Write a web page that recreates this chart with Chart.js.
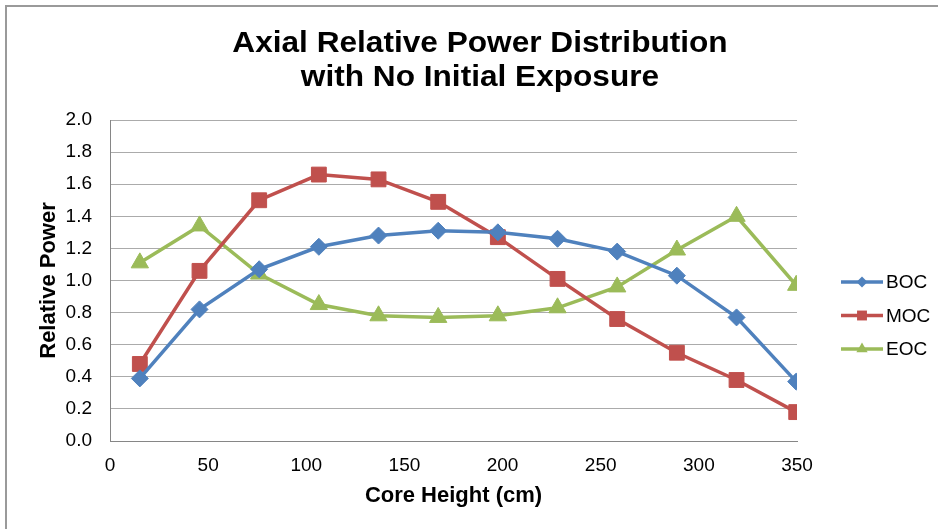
<!DOCTYPE html>
<html>
<head>
<meta charset="utf-8">
<script src="https://cdn.jsdelivr.net/npm/chart.js@4/dist/chart.umd.min.js"></script>
<style>
html,body{margin:0;padding:0;background:#fff;overflow:hidden;width:938px;height:529px;}
#frame{position:absolute;left:5px;top:5px;width:2000px;height:2000px;border:2px solid #9a9a9a;box-sizing:border-box;}
#c{position:absolute;left:0;top:0;}
</style>
</head>
<body>
<div id="frame"></div>
<canvas id="c" width="938" height="529"></canvas>
<script>
const coreHeight = [15.2, 45.6, 76, 106.4, 136.8, 167.2, 197.6, 228, 258.4, 288.8, 319.2, 349.6];
const boc = [0.39, 0.82, 1.07, 1.21, 1.28, 1.31, 1.30, 1.26, 1.18, 1.03, 0.77, 0.37];
const moc = [0.48, 1.06, 1.50, 1.66, 1.63, 1.49, 1.27, 1.01, 0.76, 0.55, 0.38, 0.18];
const eoc = [1.11, 1.34, 1.04, 0.85, 0.78, 0.77, 0.78, 0.83, 0.96, 1.19, 1.40, 0.97];
const seriesNames = ['BOC', 'MOC', 'EOC'];
const titleLines = ['Axial Relative Power Distribution', 'with No Initial Exposure'];
const xTitle = 'Core Height (cm)';
const yTitle = 'Relative Power';

const FONT = 'Arial, "Liberation Sans", sans-serif';
const toPts = ys => ys.map((y, i) => ({x: coreHeight[i], y: y}));

const styles = [
  {color: '#4F81BD', pointStyle: 'rectRot', pointRadius: 8.5, legendRadius: 5.5},
  {color: '#C0504D', pointStyle: 'rect', pointRadius: 10.5, legendRadius: 7},
  {color: '#9BBB59', pointStyle: 'triangle', pointRadius: 10, legendRadius: 6.5}
];
const values = [boc, moc, eoc];

const datasets = values.map((v, i) => ({
  label: seriesNames[i],
  data: toPts(v),
  borderColor: styles[i].color,
  backgroundColor: styles[i].color,
  pointBackgroundColor: styles[i].color,
  pointBorderColor: styles[i].color,
  pointBorderWidth: 1,
  pointStyle: styles[i].pointStyle,
  pointRadius: styles[i].pointRadius,
  pointHoverRadius: styles[i].pointRadius,
  borderWidth: 3.5,
  tension: 0,
  fill: false
}));

const titlePlugin = {
  id: 'customTitle',
  afterDraw(chart) {
    const ctx = chart.ctx;
    const cx = 480;
    const baselines = [52, 86];
    ctx.save();
    ctx.fillStyle = '#000';
    ctx.font = 'bold 29px ' + FONT;
    ctx.textAlign = 'center';
    ctx.textBaseline = 'alphabetic';
    titleLines.forEach((t, i) => {
      ctx.save();
      ctx.translate(cx, baselines[i]);
      ctx.scale(1.09, 1);
      ctx.fillText(t, 0, 0);
      ctx.restore();
    });
    ctx.restore();
  }
};

const legendPlugin = {
  id: 'customLegend',
  afterDraw(chart) {
    const ctx = chart.ctx;
    const x0 = 841, x1 = 883, tx = 886;
    const ys = [282, 315.5, 349];
    chart.data.datasets.forEach((ds, i) => {
      const y = ys[i];
      ctx.save();
      ctx.strokeStyle = ds.borderColor;
      ctx.lineWidth = 3.5;
      ctx.beginPath();
      ctx.moveTo(x0, y);
      ctx.lineTo(x1, y);
      ctx.stroke();
      ctx.fillStyle = ds.borderColor;
      ctx.strokeStyle = ds.borderColor;
      Chart.helpers.drawPoint(ctx, {pointStyle: ds.pointStyle, rotation: 0, radius: styles[i].legendRadius, borderWidth: 0}, (x0 + x1) / 2, y);
      ctx.fillStyle = '#000';
      ctx.font = '19px ' + FONT;
      ctx.textBaseline = 'middle';
      ctx.textAlign = 'left';
      ctx.fillText(ds.label, tx, y + 1);
      ctx.restore();
    });
  }
};

new Chart(document.getElementById('c'), {
  type: 'line',
  data: {datasets},
  plugins: [titlePlugin, legendPlugin],
  options: {
    responsive: false,
    animation: false,
    layout: {padding: {left: 0, right: 141, top: 120, bottom: 0}},
    plugins: {
      legend: {display: false},
      tooltip: {enabled: false},
      title: {display: false}
    },
    scales: {
      x: {
        type: 'linear',
        min: 0, max: 350,
        afterFit(s) { s.height = 88; },
        ticks: {stepSize: 50, color: '#000', font: {family: FONT, size: 19}, padding: 13, maxRotation: 0},
        grid: {display: false, drawTicks: false},
        border: {display: true, color: '#868686', width: 1},
        title: {display: true, text: xTitle, color: '#000', font: {family: FONT, size: 22, weight: 'bold'}, padding: {top: 4, bottom: 20}}
      },
      y: {
        min: 0, max: 2,
        afterFit(s) { s.width = 110; },
        ticks: {stepSize: 0.2, color: '#000', font: {family: FONT, size: 19}, padding: 18, callback: v => v.toFixed(1)},
        grid: {color: '#ABABAB', lineWidth: 1, drawTicks: false},
        border: {display: true, color: '#868686', width: 1},
        title: {display: true, text: yTitle, color: '#000', font: {family: FONT, size: 22, weight: 'bold'}, padding: {top: 36, bottom: 0}}
      }
    }
  }
});
</script>
</body>
</html>
